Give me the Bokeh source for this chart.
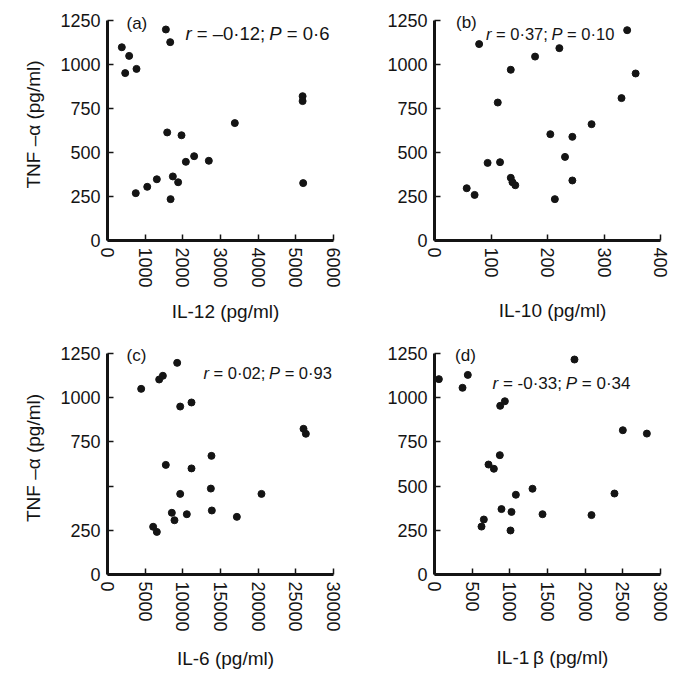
from bokeh.plotting import figure
from bokeh.layouts import row, column
from bokeh.models import Range1d, FixedTicker, Label
from bokeh.embed import file_html
from bokeh.resources import INLINE

FONT = "Liberation Sans"
INK = "#141414"
TNF_LABEL = "TNF \u2013\u03b1 (pg/ml)"
Y_TICKS = [0, 250, 500, 750, 1000, 1250]
Y_MAX = 1250

# (a) IL-12
il12 = [380, 470, 575, 770, 1550, 1665, 1585, 1965, 750, 1055, 1310, 1735,
        1875, 1675, 2080, 2300, 2690, 3380, 5180, 5180, 5195]
tnf_a = [1098, 951, 1049, 975, 1199, 1127, 614, 598, 269, 305, 348, 364,
         331, 235, 447, 479, 453, 667, 820, 792, 326]
x_ticks_a = [0, 1000, 2000, 3000, 4000, 5000, 6000]

# (b) IL-10
il10 = [79, 135, 112, 178, 221, 341, 356, 331, 278, 205, 244, 231, 244,
        213, 94, 116, 135, 138, 143, 57, 71]
tnf_b = [1116, 970, 784, 1045, 1093, 1195, 949, 809, 661, 604, 589, 475,
         341, 235, 441, 445, 356, 331, 314, 297, 259]
x_ticks_b = [0, 100, 200, 300, 400]

# (c) IL-6
il6 = [4470, 6860, 7350, 9250, 9650, 11150, 7740, 11150, 13800, 13720, 9650,
       20440, 13850, 8540, 10530, 8890, 17170, 6060, 6550, 26020, 26330]
tnf_c = [1050, 1103, 1124, 1197, 950, 973, 620, 600, 671, 486, 456, 456,
         362, 349, 341, 307, 326, 270, 241, 824, 796]
x_ticks_c = [0, 5000, 10000, 15000, 20000, 25000, 30000]

# (d) IL-1 beta
il1b = [58, 372, 442, 1858, 872, 934, 867, 717, 788, 2500, 2819, 1080, 1301,
        2389, 889, 1022, 1434, 2084, 655, 624, 1009]
tnf_d = [1105, 1056, 1129, 1216, 954, 980, 675, 622, 598, 816, 797, 451, 485,
         458, 370, 354, 341, 336, 311, 271, 249]
x_ticks_d = [0, 500, 1000, 1500, 2000, 2500, 3000]

# Arial / Liberation Sans advance widths (em)
W = {' ': 0.278, '=': 0.584, '\u2013': 0.556, '-': 0.333, '\u00b7': 0.278,
     ';': 0.278, 'P': 0.667, 'r': 0.333, '(': 0.333, ')': 0.333}
for d in "0123456789":
    W[d] = 0.556


def tw(s, size):
    return sum(W.get(c, 0.556) for c in s) * size


def rich(p, x, y, parts, size):
    off = 0.0
    for txt, italic in parts:
        stripped = txt.lstrip(" ")
        off += tw(txt[:len(txt) - len(stripped)], size)
        body = stripped.rstrip(" ")
        p.add_layout(Label(x=x, y=y, x_offset=off, text=body,
                           text_font=FONT, text_font_size=f"{size}px",
                           text_font_style="italic" if italic else "normal",
                           text_color=INK, text_align="left",
                           text_baseline="middle"))
        off += tw(stripped, size)


# axis length in px (data span) and extra px of frame beyond the axis end
AX_W, EXTRA_W = 226, 10
EXTRA_H = 12


def panel(xs, ys, xmax, xticks, xlabel, ylabel, left, top, bottom,
          axh, xstand, overrides=None):
    fw = AX_W + EXTRA_W
    fh = axh + EXTRA_H
    p = figure(frame_width=fw, frame_height=fh,
               x_range=Range1d(0, xmax * fw / AX_W),
               y_range=Range1d(0, Y_MAX * fh / axh),
               output_backend="svg", toolbar_location=None,
               min_border_left=left, min_border_right=3,
               min_border_top=top, min_border_bottom=bottom)
    p.grid.visible = False
    p.outline_line_color = None
    p.background_fill_color = "white"
    p.border_fill_color = "white"
    p.scatter(xs, ys, size=7, color=INK)
    for ax in (p.xaxis[0], p.yaxis[0]):
        ax.axis_line_width = 3
        ax.axis_line_color = INK
        ax.major_tick_in = 6
        ax.major_tick_out = 0
        ax.major_tick_line_width = 1.5
        ax.major_tick_line_color = INK
        ax.minor_tick_line_color = None
        ax.major_label_text_font = FONT
        ax.major_label_text_font_size = "18px"
        ax.major_label_text_color = INK
        ax.axis_label_text_font = FONT
        ax.axis_label_text_font_size = "19px"
        ax.axis_label_text_font_style = "normal"
        ax.axis_label_text_color = INK
        ax.major_label_standoff = 7
    p.xaxis[0].bounds = (0, xmax)
    p.yaxis[0].bounds = (0, Y_MAX)
    p.xaxis[0].ticker = FixedTicker(ticks=xticks)
    p.yaxis[0].ticker = FixedTicker(ticks=Y_TICKS)
    p.xaxis[0].major_label_orientation = "vertical"
    p.xaxis[0].axis_label = xlabel
    p.xaxis[0].axis_label_standoff = xstand
    if ylabel:
        p.yaxis[0].axis_label = ylabel
        p.yaxis[0].axis_label_standoff = 13
    if overrides:
        p.yaxis[0].major_label_overrides = overrides
    return p


pa = panel(il12, tnf_a, 6000, x_ticks_a, "IL-12 (pg/ml)", TNF_LABEL,
           107, 8, 90, 220, 10)
pb = panel(il10, tnf_b, 400, x_ticks_b, "IL-10 (pg/ml)", None,
           88, 8, 90, 220, 19)
pc = panel(il6, tnf_c, 30000, x_ticks_c, "IL-6 (pg/ml)", TNF_LABEL,
           107, 11, 100, 221, 13, overrides={500: ""})
pd = panel(il1b, tnf_d, 3000, x_ticks_d, "IL-1\u2009\u03b2 (pg/ml)", None,
           88, 11, 100, 221, 22)

rich(pa, 504, 1233, [("(a)", False)], 17)
rich(pa, 2071, 1176, [("r", True), (" = \u20130\u00b712; ", False),
                      ("P", True), (" = 0\u00b76", False)], 18.5)
rich(pb, 38, 1240, [("(b)", False)], 17)
rich(pb, 91, 1176, [("r", True), (" = 0\u00b737; ", False),
                    ("P", True), (" = 0\u00b710", False)], 16.5)
rich(pc, 2520, 1240, [("(c)", False)], 17)
rich(pc, 12740, 1137, [("r", True), (" = 0\u00b702; ", False),
                       ("P", True), (" = 0\u00b793", False)], 16.5)
rich(pd, 273, 1240, [("(d)", False)], 17)
rich(pd, 770, 1080, [("r", True), (" = -0\u00b733; ", False),
                     ("P", True), (" = 0\u00b734", False)], 17)

layout = column(row(pa, pb), row(pc, pd))

open("out.html", "w").write(file_html(layout, INLINE))
